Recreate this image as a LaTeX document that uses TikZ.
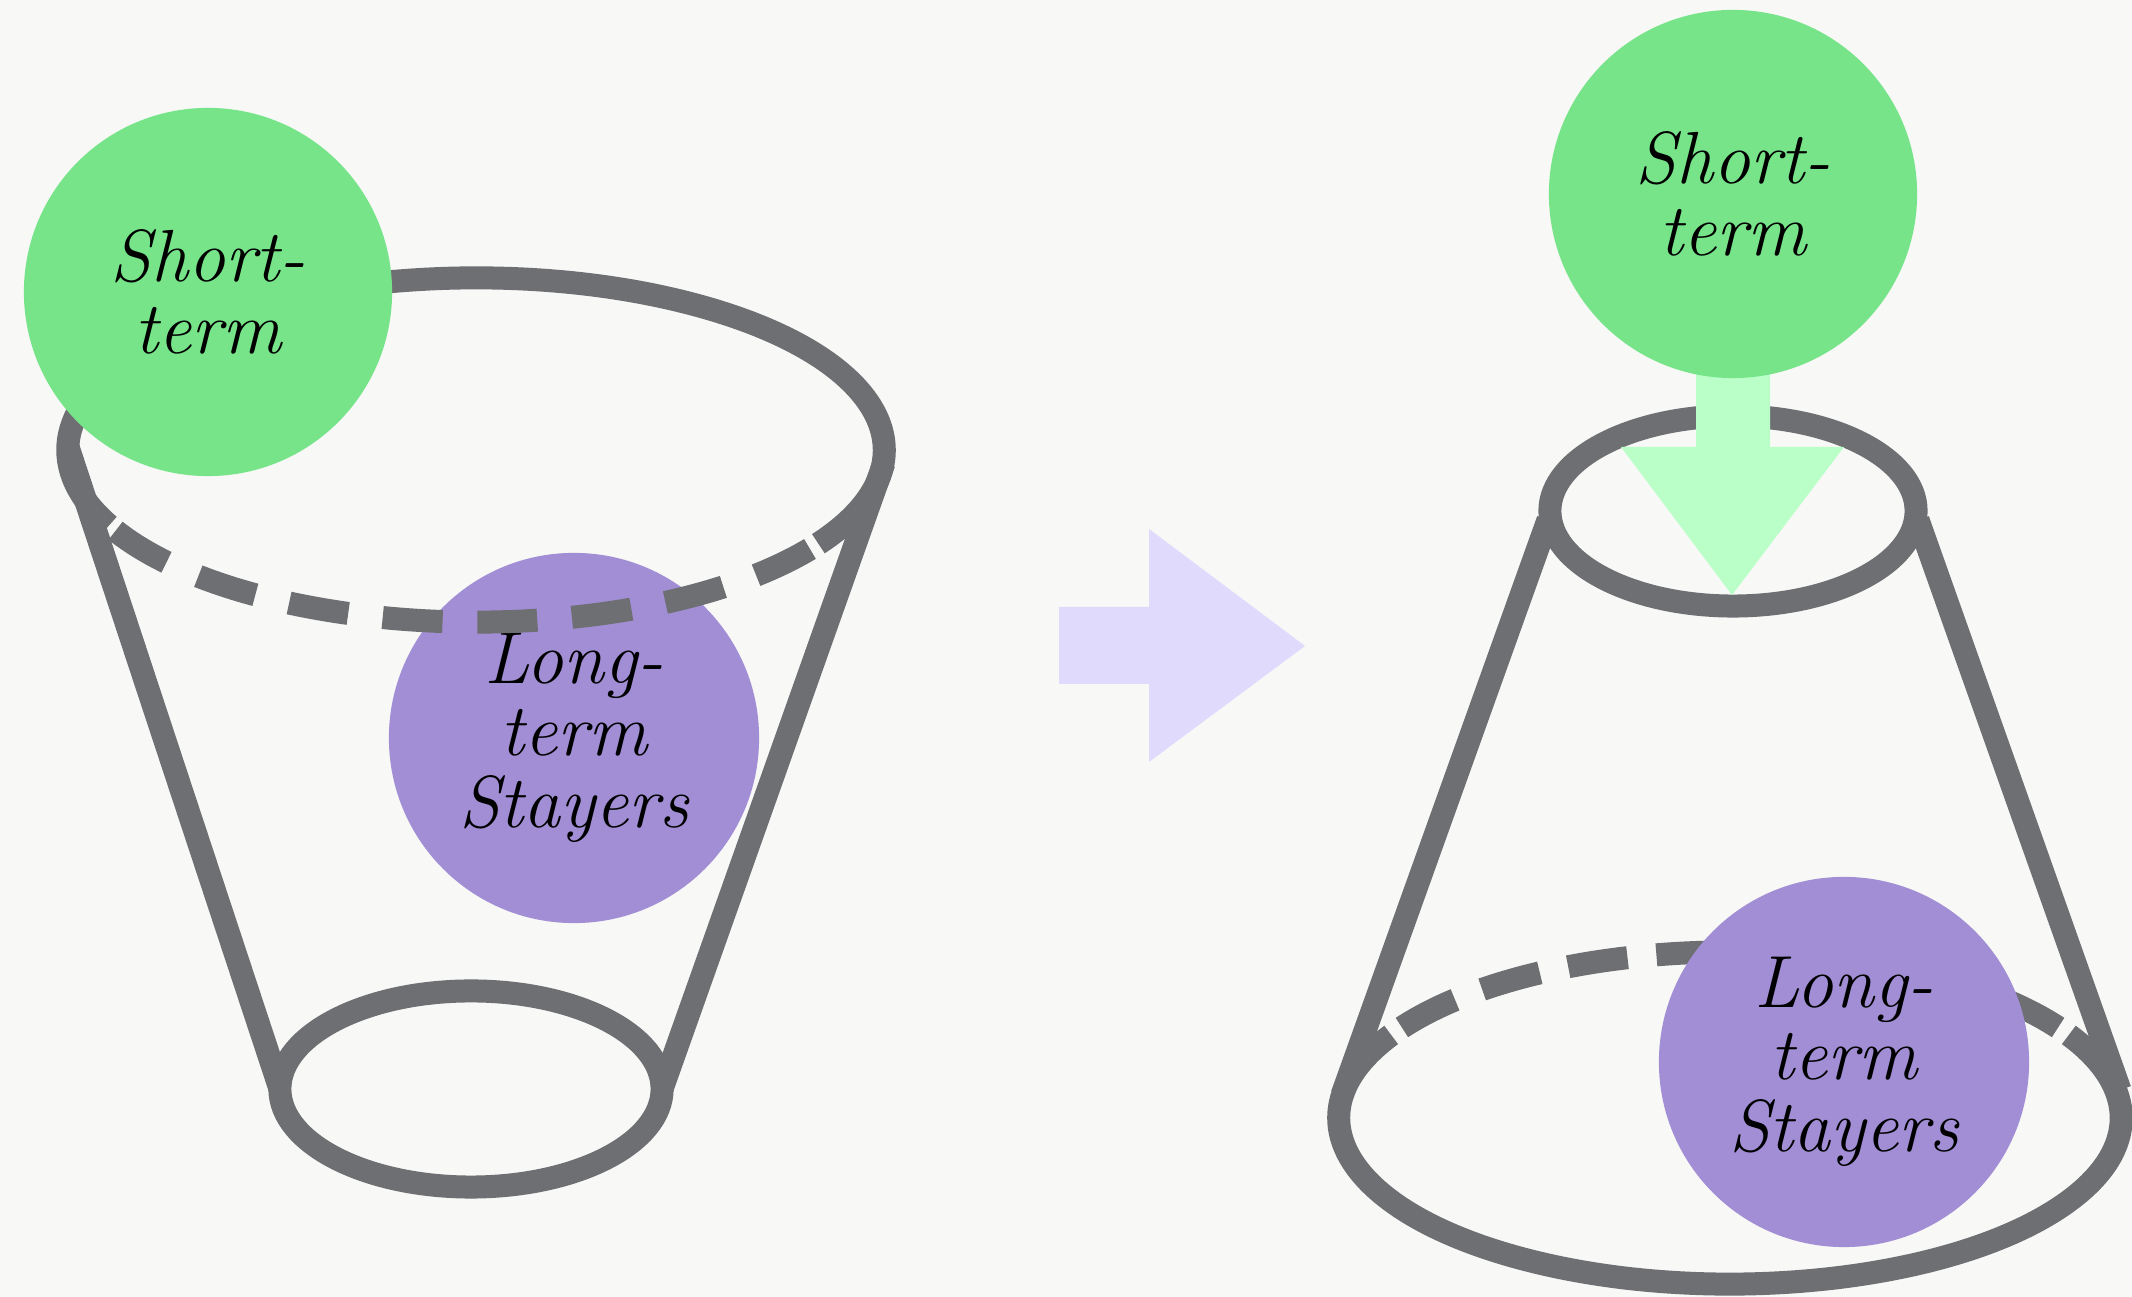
\documentclass[tikz,border=0pt]{standalone}
\usepackage{fontspec}
\definecolor{bucket}{RGB}{110,111,115}
\definecolor{stgreen}{RGB}{120,228,138}
\definecolor{ltpurple}{RGB}{161,142,212}
\definecolor{arrowlav}{RGB}{224,218,253}
\definecolor{arrowgreen}{RGB}{186,255,200}
\definecolor{bgwhite}{RGB}{248,248,246}
\begin{document}
\begin{tikzpicture}[x=0.01cm,y=0.01cm,
  rim/.style={draw=bucket, line width=0.23cm},
  rimdashA/.style={rim, dash pattern=on 0.6cm off 0.347cm},
  rimdashB/.style={rim, dash pattern=on 0.6cm off 0.29cm},
  ball/.style={circle, inner sep=0pt, minimum size=3.68cm, align=center,
    font=\itshape\fontsize{21}{20.5}\selectfont, text=black},
]
\fill[bgwhite] (0,0) rectangle (2132,1297);
\useasboundingbox (0,0) rectangle (2132,1297);

% ---------- left bucket ----------
\node[ball, fill=ltpurple, minimum size=3.7cm] (lp) at (574,559) {Long-\\term\\Stayers};
\coordinate (ltc) at (476,847);
\draw[rim] ([shift={(-33:4.08cm and 1.72cm)}]ltc) arc[start angle=-33, end angle=206, x radius=4.08cm, y radius=1.72cm];
\draw[rimdashA] ([shift={(208:4.08cm and 1.72cm)}]ltc) arc[start angle=208, end angle=325, x radius=4.08cm, y radius=1.72cm];
\coordinate (ltl) at (68,850);
\coordinate (ltr) at (884,834);
\coordinate (lbl) at (280,208);
\coordinate (lbr) at (662,208);
\draw[rim] (ltl) -- (lbl);
\draw[rim] (ltr) -- (lbr);
\draw[rim] (471,208) ellipse [x radius=1.91cm, y radius=0.98cm];
\node[ball, fill=stgreen] (lg) at (208,1005) {Short-\\term};

% ---------- middle arrow ----------
\fill[arrowlav] (1059,690) -- (1149,690) -- (1149,768) -- (1305,651) -- (1149,535) -- (1149,613) -- (1059,613) -- cycle;

% ---------- right bucket ----------
\draw[rim] (1733,786) ellipse [x radius=1.83cm, y radius=0.95cm];
\coordinate (rtl) at (1548,777);
\coordinate (rtr) at (1918,777);
\coordinate (rbl) at (1342,202);
\coordinate (rbr) at (2120,207);
\draw[rim] (rtl) -- (rbl);
\draw[rim] (rtr) -- (rbr);
\coordinate (rbc) at (1730,179);
\draw[rim] ([shift={(150:3.91cm and 1.66cm)}]rbc) arc[start angle=150, end angle=390, x radius=3.91cm, y radius=1.66cm];
\draw[rimdashB] ([shift={(147:3.91cm and 1.66cm)}]rbc) arc[start angle=147, end angle=33, x radius=3.91cm, y radius=1.66cm];
\node[ball, fill=ltpurple, minimum size=3.7cm] (rp) at (1844,235) {Long-\\term\\Stayers};
\fill[arrowgreen] (1696,1103) -- (1696,850) -- (1621,850) -- (1732,702) -- (1844,850) -- (1770,850) -- (1770,1103) -- cycle;
\node[ball, fill=stgreen] (rg) at (1733,1103) {Short-\\term};
\end{tikzpicture}
\end{document}
